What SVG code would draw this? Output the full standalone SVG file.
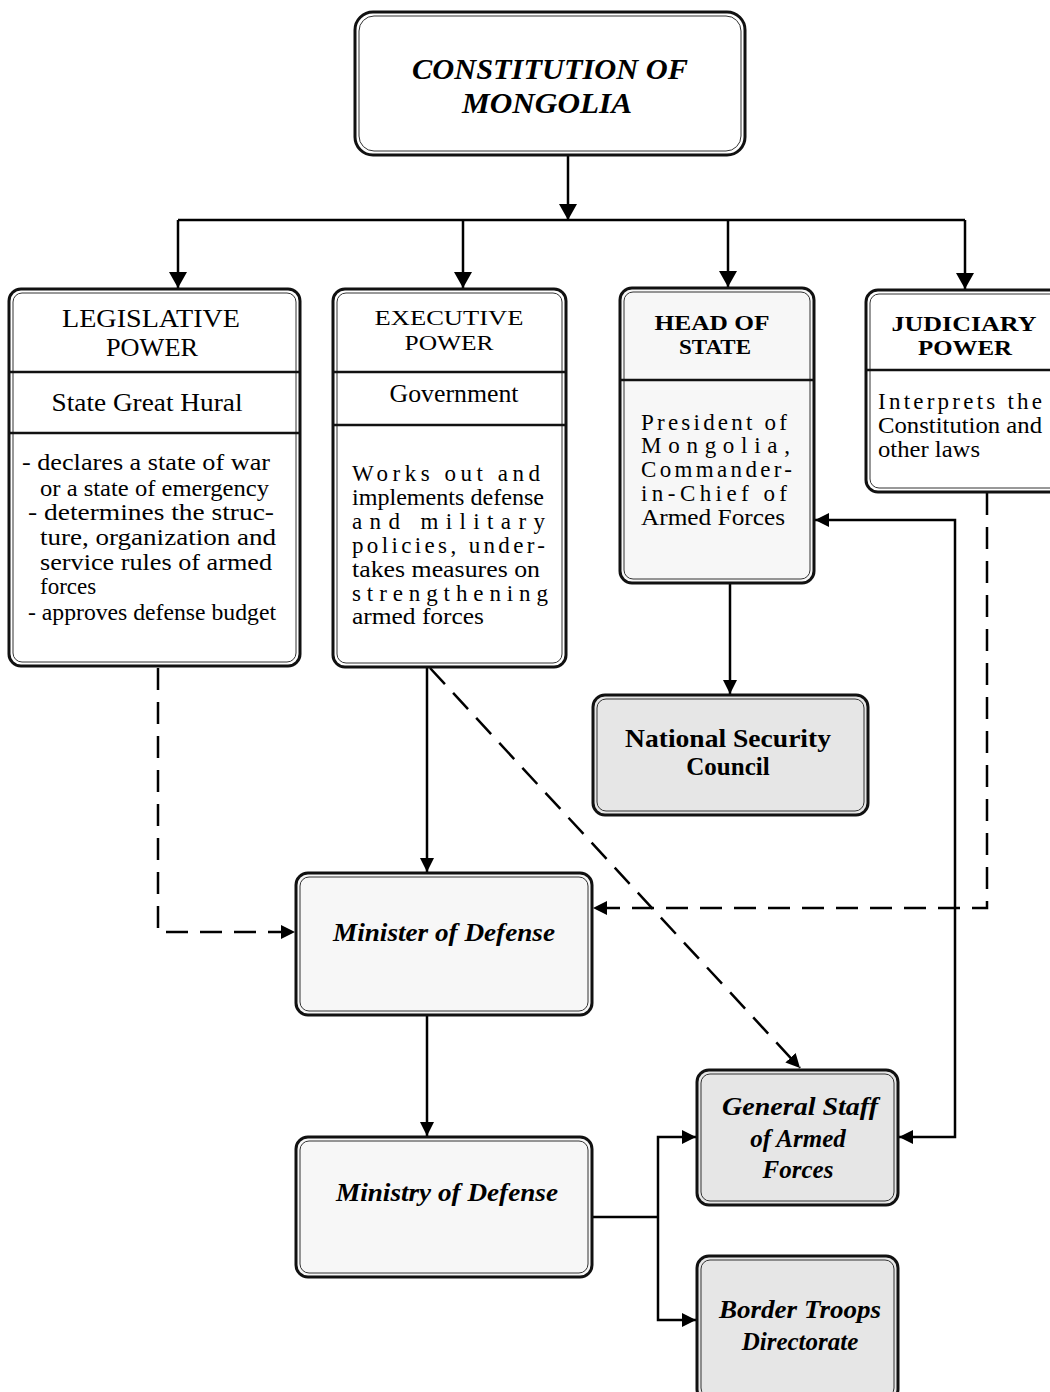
<svg xmlns="http://www.w3.org/2000/svg" width="1050" height="1392" viewBox="0 0 1050 1392">
<style>
.box{fill:#ffffff;stroke:#111;stroke-width:3}
.shade{fill:#e6e6e6;stroke:#111;stroke-width:3}
.light{fill:#f7f7f7;stroke:#111;stroke-width:3}
.inner{fill:none;stroke:#333;stroke-width:1}
.div{stroke:#111;stroke-width:2.5}
.t{font-family:"Liberation Serif","Times New Roman","DejaVu Serif",serif;fill:#000}
.title{font-size:26px;text-anchor:middle}
.tight{font-size:22px;text-anchor:middle}
.btitle{font-size:22px;text-anchor:middle;font-weight:bold}
.body{font-size:23px}
.bi{font-weight:bold;font-style:italic;text-anchor:middle}
.it{font-style:italic;font-weight:bold;text-anchor:middle}
.solid{fill:none;stroke:#000;stroke-width:2.5}
.dash{fill:none;stroke:#000;stroke-width:2.5;stroke-dasharray:22 12}
</style>
<defs>
<marker id="big" markerUnits="userSpaceOnUse" markerWidth="20" markerHeight="20" refX="16" refY="10" orient="auto-start-reverse">
<path d="M0,1 L16,10 L0,19 z" fill="#000"/>
</marker>
<marker id="sm" markerUnits="userSpaceOnUse" markerWidth="16" markerHeight="16" refX="14" refY="8" orient="auto-start-reverse">
<path d="M0,1 L14,8 L0,15 z" fill="#000"/>
</marker>
</defs>

<g id="connectors">
<line class="solid" x1="568" y1="156" x2="568" y2="220" marker-end="url(#big)"/>
<line class="solid" x1="178" y1="220" x2="965" y2="220"/>
<line class="solid" x1="178" y1="220" x2="178" y2="288" marker-end="url(#big)"/>
<line class="solid" x1="463" y1="220" x2="463" y2="288" marker-end="url(#big)"/>
<line class="solid" x1="728" y1="220" x2="728" y2="287" marker-end="url(#big)"/>
<line class="solid" x1="965" y1="220" x2="965" y2="289" marker-end="url(#big)"/>
<line class="solid" x1="730" y1="583" x2="730" y2="694" marker-end="url(#sm)"/>
<line class="solid" x1="427" y1="668" x2="427" y2="872" marker-end="url(#sm)"/>
<line class="dash" x1="430" y1="668" x2="800" y2="1068" marker-end="url(#sm)"/>
<polyline class="dash" points="158,668 158,932 295,932" marker-end="url(#sm)"/>
<polyline class="dash" points="987,493 987,908 593,908" marker-end="url(#sm)"/>
<polyline class="solid" points="899,1137 955,1137 955,520 815,520" marker-start="url(#sm)" marker-end="url(#sm)"/>
<line class="solid" x1="427" y1="1016" x2="427" y2="1136" marker-end="url(#sm)"/>
<line class="solid" x1="593" y1="1217" x2="658" y2="1217"/>
<polyline class="solid" points="696,1137 658,1137 658,1320 696,1320" marker-start="url(#sm)" marker-end="url(#sm)"/>
</g>

<g id="constitution">
<rect class="box" x="355" y="12" width="390" height="143" rx="18"/>
<rect class="inner" x="359" y="16" width="382" height="135" rx="15"/>
<text class="t bi" x="550" y="79" font-size="29" textLength="276" lengthAdjust="spacingAndGlyphs">CONSTITUTION OF</text>
<text class="t bi" x="547" y="113" font-size="29" textLength="170" lengthAdjust="spacingAndGlyphs">MONGOLIA</text>
</g>

<g id="legislative">
<rect class="box" x="9" y="289" width="291" height="377" rx="12"/>
<rect class="inner" x="13" y="293" width="283" height="369" rx="9"/>
<line class="div" x1="9" y1="372" x2="300" y2="372"/>
<line class="div" x1="9" y1="433" x2="300" y2="433"/>
<text class="t title" x="151" y="327" textLength="178" lengthAdjust="spacingAndGlyphs">LEGISLATIVE</text>
<text class="t title" x="152" y="356" textLength="92" lengthAdjust="spacingAndGlyphs">POWER</text>
<text class="t title" x="147" y="411" font-size="25" textLength="191" lengthAdjust="spacingAndGlyphs">State Great Hural</text>
<text class="t body" x="22" y="470" textLength="248" lengthAdjust="spacingAndGlyphs">- declares a state of war</text>
<text class="t body" x="40" y="496" textLength="229" lengthAdjust="spacingAndGlyphs">or a state of emergency</text>
<text class="t body" x="28" y="520" textLength="246" lengthAdjust="spacingAndGlyphs">- determines the struc-</text>
<text class="t body" x="40" y="545" textLength="236" lengthAdjust="spacingAndGlyphs">ture, organization and</text>
<text class="t body" x="40" y="570" textLength="232" lengthAdjust="spacingAndGlyphs">service rules of armed</text>
<text class="t body" x="40" y="594">forces</text>
<text class="t body" x="28" y="620" textLength="248" lengthAdjust="spacingAndGlyphs">- approves defense budget</text>
</g>

<g id="executive">
<rect class="box" x="333" y="289" width="233" height="378" rx="12"/>
<rect class="inner" x="337" y="293" width="225" height="370" rx="9"/>
<line class="div" x1="333" y1="372" x2="566" y2="372"/>
<line class="div" x1="333" y1="425" x2="566" y2="425"/>
<text class="t tight" x="449" y="325" textLength="149" lengthAdjust="spacingAndGlyphs">EXECUTIVE</text>
<text class="t tight" x="449" y="350" textLength="89" lengthAdjust="spacingAndGlyphs">POWER</text>
<text class="t title" x="454" y="402" font-size="25" textLength="129" lengthAdjust="spacingAndGlyphs">Government</text>
<text class="t body" x="352" y="481" textLength="188" lengthAdjust="spacing">Works out and</text>
<text class="t body" x="352" y="505" textLength="192" lengthAdjust="spacingAndGlyphs">implements defense</text>
<text class="t body" x="352" y="529" textLength="193" lengthAdjust="spacing">and    military</text>
<text class="t body" x="352" y="553" textLength="193" lengthAdjust="spacing">policies, under-</text>
<text class="t body" x="352" y="577" textLength="188" lengthAdjust="spacingAndGlyphs">takes measures on</text>
<text class="t body" x="352" y="601" textLength="196" lengthAdjust="spacing">strengthening</text>
<text class="t body" x="352" y="624" textLength="132" lengthAdjust="spacingAndGlyphs">armed forces</text>
</g>

<g id="head-of-state">
<rect class="light" x="620" y="288" width="194" height="295" rx="12"/>
<rect class="inner" x="624" y="292" width="186" height="287" rx="9"/>
<line class="div" x1="620" y1="380" x2="814" y2="380"/>
<text class="t btitle" x="712" y="330" textLength="115" lengthAdjust="spacingAndGlyphs">HEAD OF</text>
<text class="t btitle" x="715" y="354" textLength="72" lengthAdjust="spacingAndGlyphs">STATE</text>
<text class="t body" x="641" y="430" textLength="146" lengthAdjust="spacing">President of</text>
<text class="t body" x="641" y="453" textLength="149" lengthAdjust="spacing">Mongolia,</text>
<text class="t body" x="641" y="477" textLength="151" lengthAdjust="spacing">Commander-</text>
<text class="t body" x="641" y="501" textLength="146" lengthAdjust="spacing">in-Chief of</text>
<text class="t body" x="641" y="525" textLength="144" lengthAdjust="spacingAndGlyphs">Armed Forces</text>
</g>

<g id="judiciary">
<rect class="box" x="866" y="290" width="200" height="202" rx="12"/>
<rect class="inner" x="870" y="294" width="192" height="194" rx="9"/>
<line class="div" x1="866" y1="370" x2="1066" y2="370"/>
<text class="t btitle" x="964" y="331" textLength="145" lengthAdjust="spacingAndGlyphs">JUDICIARY</text>
<text class="t btitle" x="965" y="355" textLength="94" lengthAdjust="spacingAndGlyphs">POWER</text>
<text class="t body" x="878" y="409" textLength="164" lengthAdjust="spacing">Interprets the</text>
<text class="t body" x="878" y="433" textLength="164" lengthAdjust="spacingAndGlyphs">Constitution and</text>
<text class="t body" x="878" y="457" textLength="102" lengthAdjust="spacingAndGlyphs">other laws</text>
</g>

<g id="national-security-council">
<rect class="shade" x="593" y="695" width="275" height="120" rx="12"/>
<rect class="inner" x="597" y="699" width="267" height="112" rx="9"/>
<text class="t" x="728" y="747" font-size="25" font-weight="bold" text-anchor="middle" textLength="206" lengthAdjust="spacingAndGlyphs">National Security</text>
<text class="t" x="728" y="775" font-size="25" font-weight="bold" text-anchor="middle">Council</text>
</g>

<g id="minister-of-defense">
<rect class="light" x="296" y="873" width="296" height="142" rx="12"/>
<rect class="inner" x="300" y="877" width="288" height="134" rx="9"/>
<text class="t it" x="444" y="941" font-size="25" textLength="222" lengthAdjust="spacingAndGlyphs">Minister of Defense</text>
</g>

<g id="ministry-of-defense">
<rect class="light" x="296" y="1137" width="296" height="140" rx="12"/>
<rect class="inner" x="300" y="1141" width="288" height="132" rx="9"/>
<text class="t it" x="447" y="1201" font-size="25" textLength="222" lengthAdjust="spacingAndGlyphs">Ministry of Defense</text>
</g>

<g id="general-staff">
<rect class="shade" x="697" y="1070" width="201" height="135" rx="12"/>
<rect class="inner" x="701" y="1074" width="193" height="127" rx="9"/>
<text class="t bi" x="800" y="1115" font-size="25" textLength="156" lengthAdjust="spacingAndGlyphs">General Staff</text>
<text class="t bi" x="798" y="1147" font-size="25">of Armed</text>
<text class="t bi" x="798" y="1178" font-size="25">Forces</text>
</g>

<g id="border-troops">
<rect class="shade" x="697" y="1256" width="201" height="145" rx="12"/>
<rect class="inner" x="701" y="1260" width="193" height="137" rx="9"/>
<text class="t bi" x="800" y="1318" font-size="25" textLength="162" lengthAdjust="spacingAndGlyphs">Border Troops</text>
<text class="t bi" x="800" y="1350" font-size="25">Directorate</text>
</g>
</svg>
